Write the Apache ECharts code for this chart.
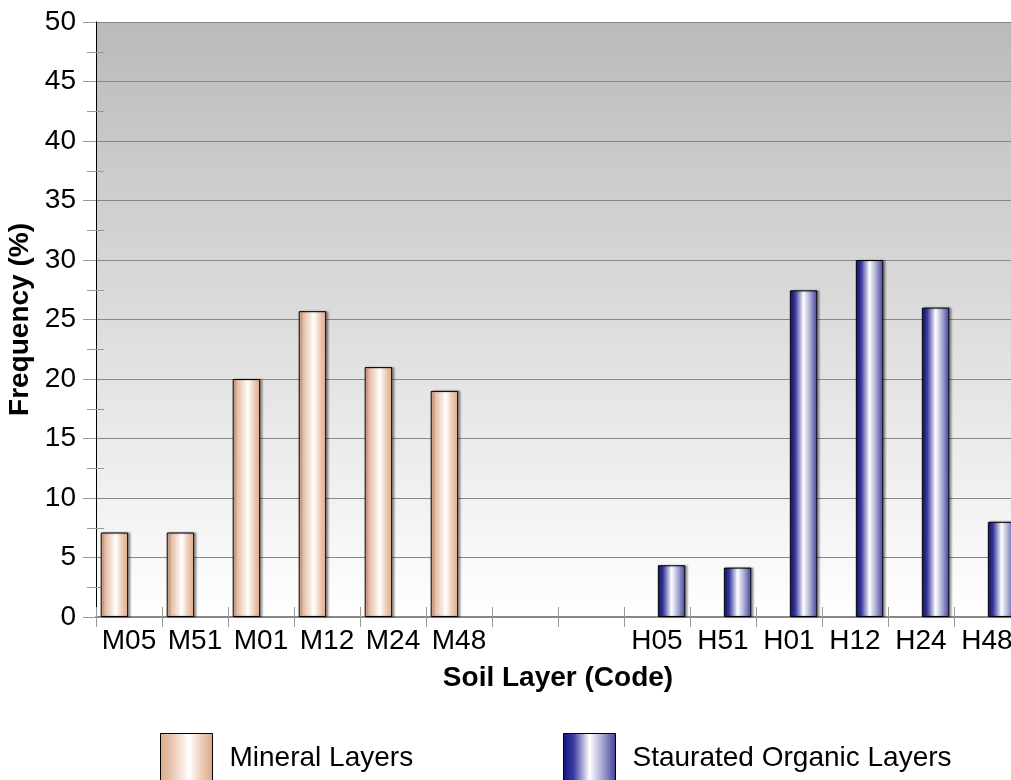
<!DOCTYPE html>
<html>
<head>
<meta charset="utf-8">
<script src="https://cdn.jsdelivr.net/npm/echarts@6/dist/echarts.min.js"></script>
<style>html,body{margin:0;padding:0;background:#fff}#c{width:1011px;height:780px}</style>
</head>
<body>
<div id="c"></div>
<script>
const categories = ['M05','M51','M01','M12','M24','M48','','','H05','H51','H01','H12','H24','H48'];
const mineralValues = [7.1, 7.1, 20, 25.7, 21, 19, '-', '-', '-', '-', '-', '-', '-', '-'];
const organicValues = ['-', '-', '-', '-', '-', '-', '-', '-', 4.35, 4.15, 27.45, 30, 26, 8];
const seriesNames = ['Mineral Layers', 'Staurated Organic Layers'];
const yTicks = {min: 0, max: 50, interval: 5};

const FONT = "'Liberation Sans', Arial, sans-serif";
const FS = 28;
const chart = echarts.init(document.getElementById('c'), null, {renderer: 'canvas'});

const mineralFill = new echarts.graphic.LinearGradient(0, 0, 1, 0, [
  {offset: 0, color: '#dcaa8a'},
  {offset: 0.25, color: '#eccab6'},
  {offset: 0.55, color: '#ffffff'},
  {offset: 0.8, color: '#ecc8b2'},
  {offset: 1, color: '#dca888'}
]);
const organicFill = new echarts.graphic.LinearGradient(0, 0, 1, 0, [
  {offset: 0, color: '#14147e'},
  {offset: 0.2, color: '#3a3aa0'},
  {offset: 0.5, color: '#ffffff'},
  {offset: 0.75, color: '#a4a4d2'},
  {offset: 1, color: '#40409a'}
]);

const option = {
  animation: false,
  textStyle: {fontFamily: FONT},
  grid: {
    left: 96, top: 22, width: 924, height: 595,
    outerBoundsMode: 'none', containLabel: false,
    show: true, borderWidth: 0,
    backgroundColor: new echarts.graphic.LinearGradient(0, 0, 0, 1, [
      {offset: 0, color: '#bababa'},
      {offset: 1, color: '#ffffff'}
    ])
  },
  legend: [
    {data: [seriesNames[0]], left: 160, top: 733, padding: 0, itemWidth: 52, itemHeight: 50, icon: 'rect',
     itemStyle: {borderColor: '#000', borderWidth: 1},
     textStyle: {fontSize: FS, color: '#000', fontFamily: FONT, padding: [0, 0, 0, 12]}},
    {data: [seriesNames[1]], left: 563, top: 733, padding: 0, itemWidth: 52, itemHeight: 50, icon: 'rect',
     itemStyle: {borderColor: '#000', borderWidth: 1},
     textStyle: {fontSize: FS, color: '#000', fontFamily: FONT, padding: [0, 0, 0, 12]}}
  ],
  xAxis: [
    {
      type: 'category', data: categories, position: 'bottom',
      name: 'Soil Layer (Code)', nameLocation: 'middle', nameGap: 47,
      nameTextStyle: {fontSize: FS, fontWeight: 'bold', color: '#000', fontFamily: FONT},
      axisLine: {show: true, lineStyle: {color: '#888', width: 2}},
      axisTick: {show: false},
      axisLabel: {fontSize: FS, color: '#000', margin: 10, interval: 0, fontFamily: FONT},
      splitLine: {show: false}
    },
    {
      type: 'category', data: categories, position: 'bottom', offset: -10,
      axisLine: {show: false},
      axisTick: {show: true, length: 20, lineStyle: {color: '#999', width: 1}},
      axisLabel: {show: false},
      splitLine: {show: false}
    }
  ],
  yAxis: [
    {
      type: 'value', min: yTicks.min, max: yTicks.max, interval: yTicks.interval,
      name: 'Frequency (%)', nameLocation: 'middle', nameGap: 58,
      nameTextStyle: {fontSize: FS, fontWeight: 'bold', color: '#000', fontFamily: FONT},
      axisLine: {show: true, lineStyle: {color: '#000', width: 1}},
      axisTick: {show: true, length: 13, lineStyle: {color: '#999'}},
      axisLabel: {fontSize: FS, color: '#000', margin: 20, fontFamily: FONT},
      splitLine: {show: true, lineStyle: {color: '#888', width: 1}}
    },
    {
      type: 'value', min: yTicks.min, max: yTicks.max, interval: yTicks.interval,
      position: 'left', offset: -8,
      axisLine: {show: false},
      axisTick: {show: false},
      axisLabel: {show: false},
      splitLine: {show: false},
      minorTick: {show: true, splitNumber: 2, length: 17, lineStyle: {color: '#999', width: 1}}
    }
  ],
  series: [
    {
      name: seriesNames[0], type: 'bar', data: mineralValues,
      barWidth: 27.5, barGap: '6%',
      itemStyle: {color: mineralFill, borderColor: '#000', borderWidth: 1,
        shadowColor: 'rgba(0,0,0,0.35)', shadowOffsetX: 2, shadowBlur: 2}
    },
    {
      name: seriesNames[1], type: 'bar', data: organicValues,
      barWidth: 27.5, barGap: '6%',
      itemStyle: {color: organicFill, borderColor: '#000', borderWidth: 1,
        shadowColor: 'rgba(0,0,0,0.35)', shadowOffsetX: 2, shadowBlur: 2}
    }
  ]
};
chart.setOption(option);
</script>
</body>
</html>
